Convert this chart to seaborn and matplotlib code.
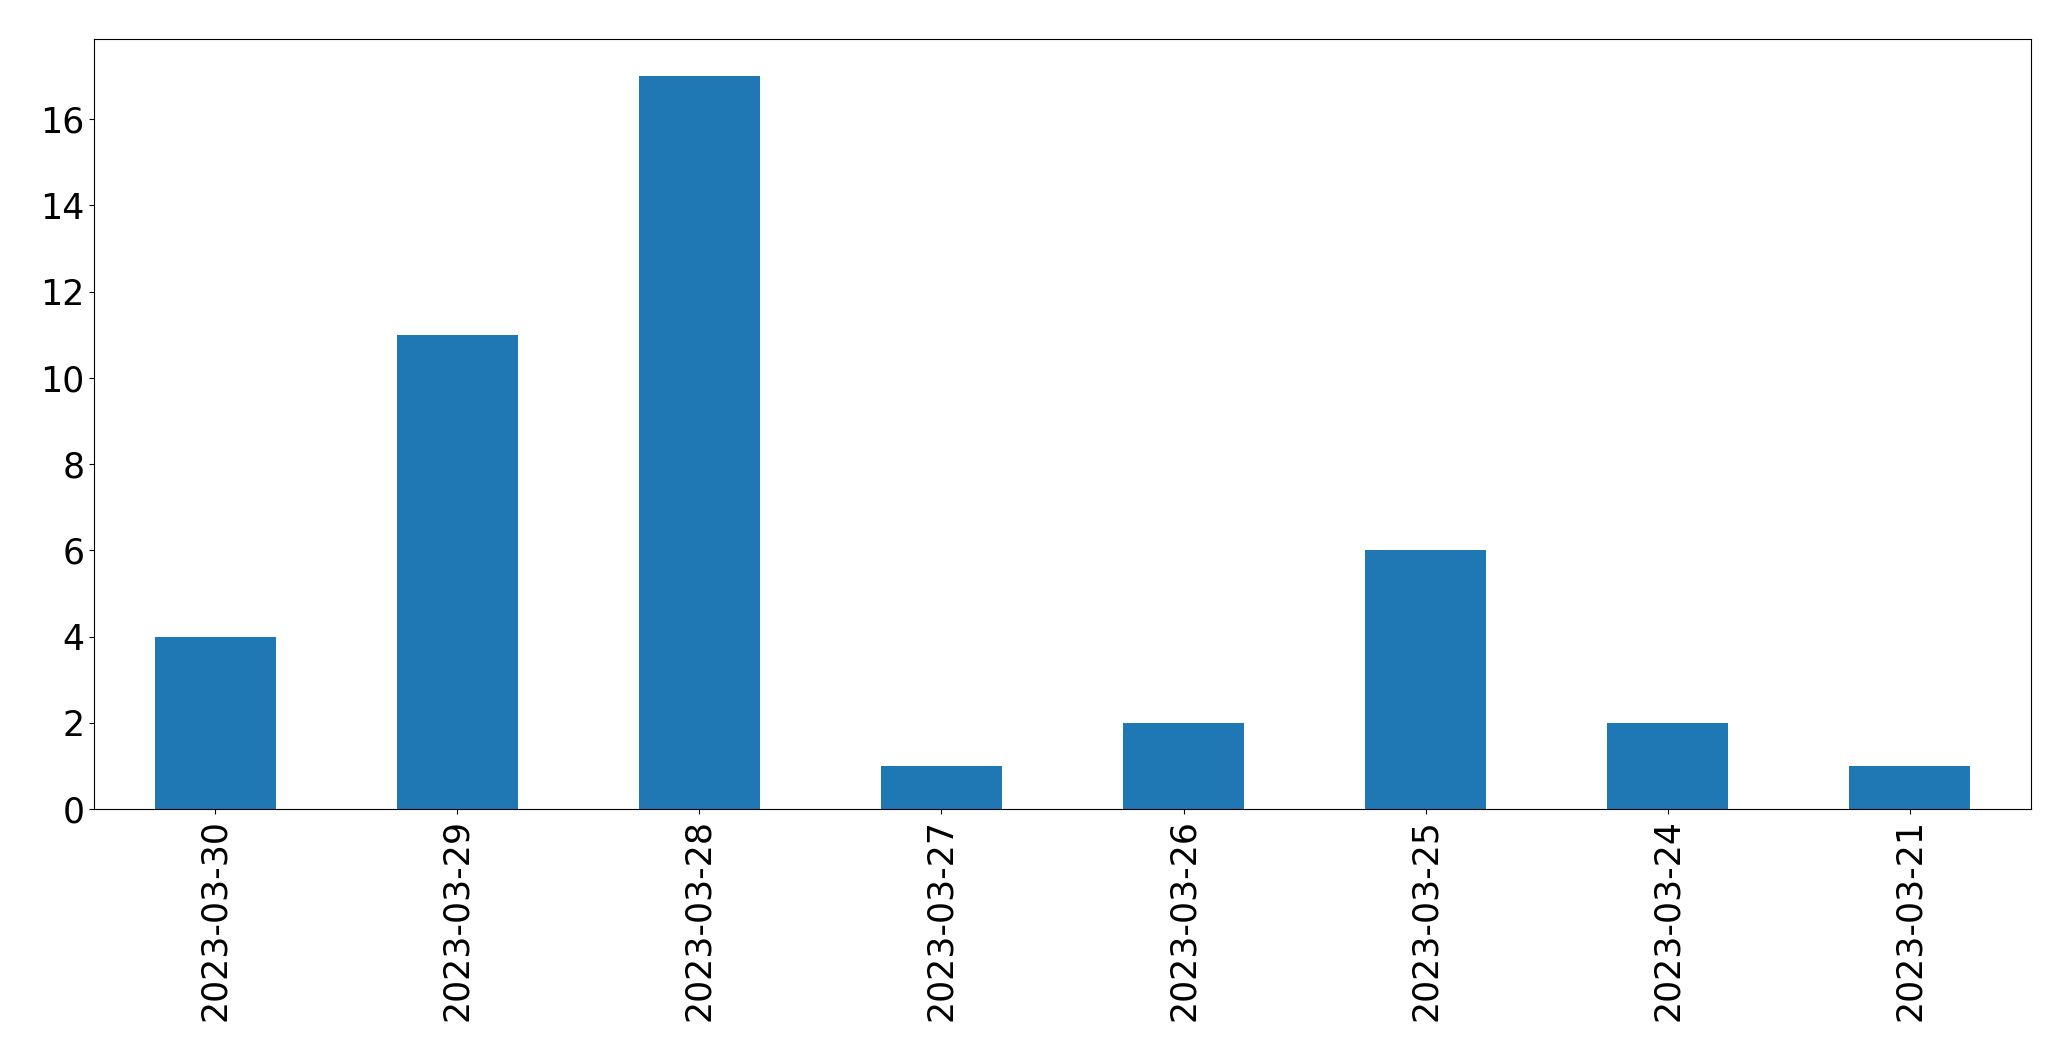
import matplotlib
matplotlib.use("Agg")
import matplotlib.pyplot as plt
import seaborn as sns
import pandas as pd

dates = ["2023-03-30", "2023-03-29", "2023-03-28", "2023-03-27",
         "2023-03-26", "2023-03-25", "2023-03-24", "2023-03-21"]
counts = [4, 11, 17, 1, 2, 6, 2, 1]

df = pd.DataFrame({"date": dates, "count": counts})

fig, ax = plt.subplots(figsize=(20.71, 10.61), dpi=100)
fig.subplots_adjust(left=0.0454, right=0.9807, top=0.9628, bottom=0.2375)

sns.barplot(data=df, x="date", y="count", order=dates, color="#1f77b4",
            saturation=1, width=0.5, ax=ax)

ax.set_xlim(-0.5, len(dates) - 0.5)
ax.set_ylim(0, max(counts) * 1.05)
ax.set_xlabel("")
ax.set_ylabel("")
ax.tick_params(axis="both", labelsize=25)
ax.tick_params(axis="x", labelrotation=90)

fig.savefig("out.png", dpi=100)
